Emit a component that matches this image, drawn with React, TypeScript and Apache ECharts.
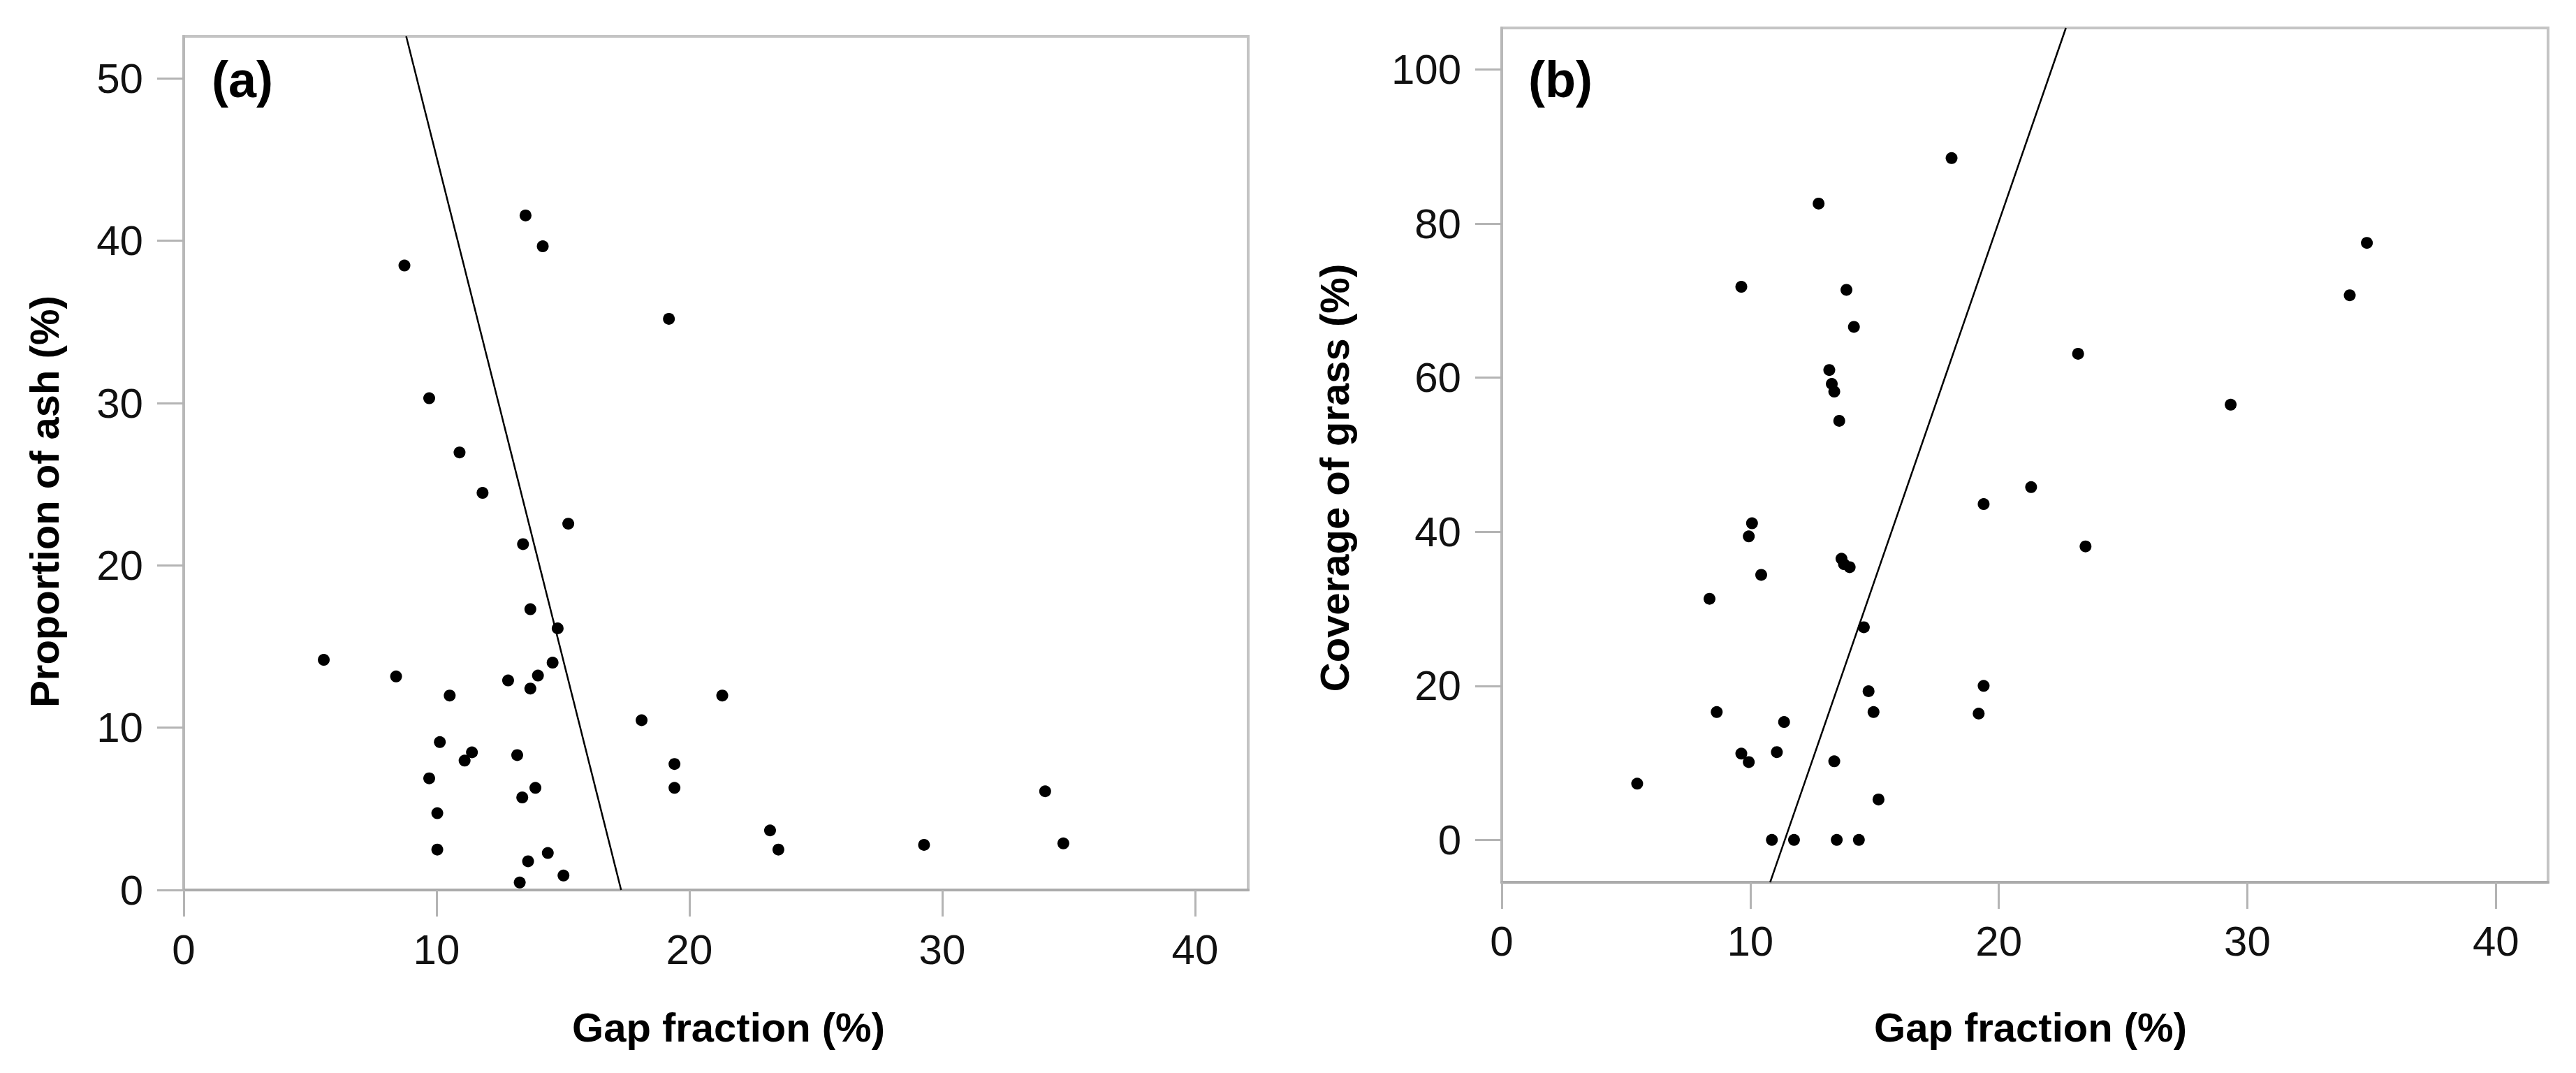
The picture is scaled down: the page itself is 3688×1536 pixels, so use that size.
import React, { useEffect, useRef } from "react";
import * as echarts from "echarts";

// Panel (a): gap fraction vs proportion of ash
const gapA: number[] = [5.54, 8.4, 8.73, 9.71, 9.71, 10.03, 10.03, 10.13, 10.52, 10.91, 11.11, 11.4, 11.82, 12.83, 13.19, 13.29, 13.39, 13.42, 13.52, 13.62, 13.71, 13.71, 13.91, 14.01, 14.2, 14.4, 14.59, 14.79, 15.02, 15.21, 18.11, 19.19, 19.41, 19.41, 21.3, 23.19, 23.52, 29.28, 34.07, 34.79];
const ash: number[] = [14.18, 13.16, 38.48, 30.3, 6.88, 4.73, 2.49, 9.11, 11.98, 26.96, 7.97, 8.48, 24.47, 12.91, 8.31, 0.46, 5.7, 21.31, 41.56, 1.77, 12.41, 17.3, 6.29, 13.21, 39.66, 2.28, 14.01, 16.12, 0.89, 22.57, 10.46, 35.19, 7.76, 6.29, 11.98, 3.67, 2.49, 2.78, 6.08, 2.87];
const fitA: number[][] = [[8.8, 52.6], [17.3, 0]];

// Panel (b): gap fraction vs coverage of grass
const gapB: number[] = [5.45, 8.36, 8.65, 9.64, 9.64, 9.94, 9.94, 10.07, 10.44, 10.87, 11.07, 11.36, 11.76, 12.75, 13.18, 13.28, 13.38, 13.38, 13.48, 13.58, 13.67, 13.77, 13.87, 14.0, 14.17, 14.37, 14.57, 14.76, 14.96, 15.16, 18.1, 19.19, 19.39, 19.39, 21.3, 23.19, 23.49, 29.33, 34.12, 34.81];
const grass: number[] = [7.3, 31.3, 16.6, 71.8, 11.2, 10.1, 39.4, 41.1, 34.4, 0, 11.4, 15.3, 0, 82.6, 61.0, 59.2, 58.2, 10.2, 0, 54.4, 36.5, 35.8, 71.4, 35.4, 66.6, 0, 27.6, 19.3, 16.6, 5.25, 88.5, 16.4, 20.0, 43.6, 45.8, 63.1, 38.1, 56.5, 70.7, 77.5];
const fitB: number[][] = [[10.8, -5.5], [22.7, 105.4]];

const xTicks: number[] = [0, 10, 20, 30, 40];
const yTicksA: number[] = [0, 10, 20, 30, 40, 50];
const yTicksB: number[] = [0, 20, 40, 60, 80, 100];

const FONT = "'Liberation Sans', Arial, Helvetica, sans-serif";
const TICK_COLOR = "#b4b4b4";

function makeXAxis(gridIndex: number, margin: number) {
  return {
    type: "value",
    gridIndex,
    min: 0,
    max: 42.1,
    axisLine: { show: true, onZero: false, lineStyle: { color: "#ababab", width: 4 } },
    axisTick: { show: true, length: 38, customValues: xTicks, lineStyle: { color: TICK_COLOR, width: 3 } },
    axisLabel: { show: true, customValues: xTicks, margin, fontSize: 60, color: "#111", fontFamily: FONT },
    splitLine: { show: false },
  };
}

function makeYAxis(gridIndex: number, min: number, max: number, ticks: number[]) {
  return {
    type: "value",
    gridIndex,
    min,
    max,
    axisLine: { show: true, onZero: false, lineStyle: { color: "#b8b8b8", width: 4 } },
    axisTick: { show: true, length: 38, customValues: ticks, lineStyle: { color: TICK_COLOR, width: 3 } },
    axisLabel: { show: true, customValues: ticks, margin: 58, fontSize: 60, color: "#111", fontFamily: FONT },
    splitLine: { show: false },
  };
}

function textEl(text: string, x: number, y: number, size: number, rotation = 0, align = "center") {
  return {
    type: "text",
    x,
    y,
    rotation,
    style: {
      text,
      fontSize: size,
      fontWeight: "bold",
      fontFamily: FONT,
      fill: "#000",
      align,
      verticalAlign: "middle",
      textAlign: align,
      textVerticalAlign: "middle",
    },
  };
}

export default function App() {
  const ref = useRef<HTMLDivElement>(null);

  useEffect(() => {
    if (!ref.current) return;
    const chart = echarts.init(ref.current, undefined, { renderer: "svg" });
    const ptsA = gapA.map((g, i) => [g, ash[i]]);
    const ptsB = gapB.map((g, i) => [g, grass[i]]);
    chart.setOption({
      animation: false,
      backgroundColor: "#ffffff",
      grid: [
        { left: 263, top: 52, width: 1524, height: 1222, show: true, borderColor: "#c4c4c4", borderWidth: 4, containLabel: false },
        { left: 2150, top: 40, width: 1498, height: 1223, show: true, borderColor: "#c4c4c4", borderWidth: 4, containLabel: false },
      ],
      xAxis: [makeXAxis(0, 55), makeXAxis(1, 54)],
      yAxis: [makeYAxis(0, 0, 52.6, yTicksA), makeYAxis(1, -5.5, 105.4, yTicksB)],
      series: [
        {
          type: "scatter",
          xAxisIndex: 0,
          yAxisIndex: 0,
          data: ptsA,
          symbol: "circle",
          symbolSize: 17,
          itemStyle: { color: "#000", opacity: 1 },
          z: 5,
        },
        {
          type: "line",
          xAxisIndex: 0,
          yAxisIndex: 0,
          data: fitA,
          symbol: "none",
          lineStyle: { color: "#000", width: 2.5 },
          z: 4,
        },
        {
          type: "scatter",
          xAxisIndex: 1,
          yAxisIndex: 1,
          data: ptsB,
          symbol: "circle",
          symbolSize: 17,
          itemStyle: { color: "#000", opacity: 1 },
          z: 5,
        },
        {
          type: "line",
          xAxisIndex: 1,
          yAxisIndex: 1,
          data: fitB,
          symbol: "none",
          lineStyle: { color: "#000", width: 2.5 },
          z: 4,
        },
      ],
      graphic: [
        textEl("(a)", 303, 114, 72, 0, "left"),
        textEl("(b)", 2188, 114, 72, 0, "left"),
        textEl("Gap fraction (%)", 1043, 1470, 58),
        textEl("Gap fraction (%)", 2907, 1470, 58),
        textEl("Proportion of ash (%)", 63, 718, 58, Math.PI / 2),
        textEl("Coverage of grass (%)", 1910, 684, 58, Math.PI / 2),
      ],
    });
    return () => chart.dispose();
  }, []);

  return (
    <div
      ref={ref}
      style={{ position: "fixed", left: 0, top: 0, width: 3688, height: 1536, background: "#fff" }}
    />
  );
}
